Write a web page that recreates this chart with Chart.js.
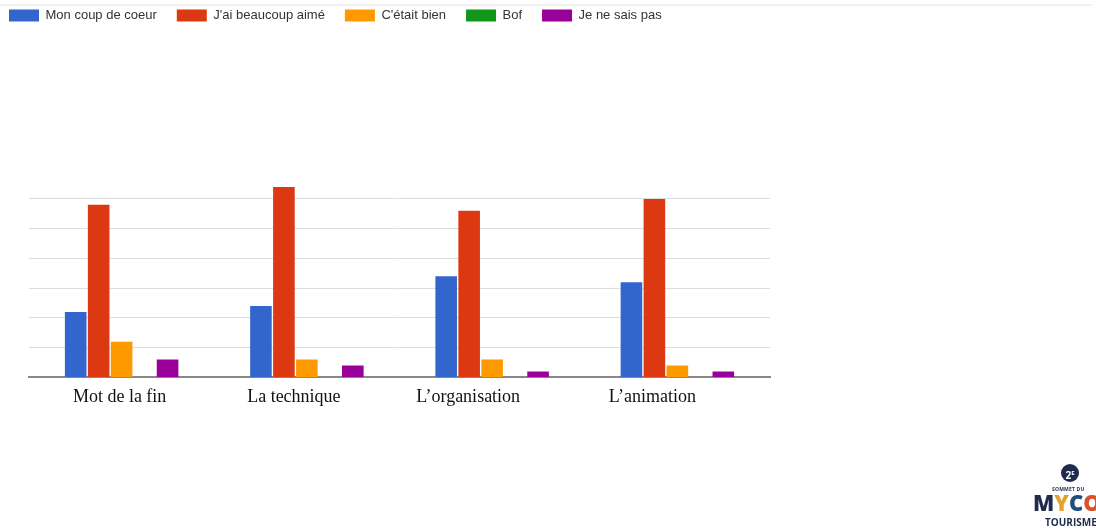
<!DOCTYPE html>
<html lang="fr">
<head>
<meta charset="utf-8">
<script src="https://cdn.jsdelivr.net/npm/chart.js@4/dist/chart.umd.min.js"></script>
<style>
  html, body { margin: 0; padding: 0; background: #fff; }
  #wrap { position: relative; width: 1096px; height: 531px; overflow: hidden; }
  #chart { position: absolute; left: -11px; top: -11px; }
  #topline { position: absolute; left: 0; top: 4px; width: 1092px; height: 2px; background: #f1f1f1; }
  #logo { position: absolute; left: 1030px; top: 462px; width: 90px; font-family: "Open Sans", "Liberation Sans", sans-serif; color: #1e2b4d; }
  #logo .badge { position: absolute; left: 31px; top: 2px; width: 18px; height: 18px; border-radius: 50%; background: #1e2b4d; color: #fff; font-size: 10px; font-weight: 700; line-height: 18px; text-align: center; }
  #logo .badge sup { font-size: 6px; }
  #logo .sommet { position: absolute; left: 22px; top: 24px; font-size: 5px; font-weight: 700; letter-spacing: 0.2px; }
  #logo .myco { position: absolute; left: 3px; top: 29px; font-size: 22px; font-weight: 800; line-height: 22px; }
  #logo .tourisme { position: absolute; left: 15px; top: 53px; font-size: 10px; font-weight: 700; }
</style>
</head>
<body>
<div id="wrap">
  <canvas id="chart" width="1107" height="542"></canvas>
  <div id="topline"></div>
  <div id="logo">
    <div class="badge">2<sup>E</sup></div>
    <div class="sommet">SOMMET DU</div>
    <div class="myco"><span>M</span><span style="color:#e5a12c">Y</span><span style="color:#1f4f7a">C</span><span style="color:#d8532b">O</span></div>
    <div class="tourisme">TOURISME</div>
  </div>
</div>
<script>
const categories = ['Mot de la fin', 'La technique', 'L\u2019organisation', 'L\u2019animation'];

const seriesNames = ['Mon coup de coeur', 'J\'ai beaucoup aimé', 'C\'était bien', 'Bof', 'Je ne sais pas'];
const coupDeCoeur = [11, 12, 17, 16];
const beaucoupAime = [29, 32, 28, 30];
const etaitBien = [6, 3, 3, 2];
const bof = [0, 0, 0, 0];
const neSaisPas = [3, 2, 1, 1];

// gridline values (no labels shown)
const yTicks = [0, 5, 10, 15, 20, 25, 30];

const colors = ['#3366cc', '#dc3912', '#ff9900', '#109618', '#990099'];
const values = [coupDeCoeur, beaucoupAime, etaitBien, bof, neSaisPas];

const labelFont = '18px "Liberation Serif", "Times New Roman", serif';

// leave an empty band between the legend and the bars
const legendGap = {
    id: 'legendGap',
    beforeInit(chart) {
        const fit = chart.legend.fit;
        chart.legend.fit = function () {
            fit.call(this);
            this.height += 155;
        };
    }
};

// category names sit in their own text boxes, drifting left of the bar groups
const categoryLabels = {
    id: 'categoryLabels',
    afterDraw(chart) {
        const x = chart.scales.x;
        const nudge = [-2, -13, -24, -25];
        const c = chart.ctx;
        c.save();
        c.font = labelFont;
        c.fillStyle = '#111';
        c.textAlign = 'center';
        c.textBaseline = 'middle';
        categories.forEach((name, i) => {
            c.fillText(name, x.getPixelForValue(i) + nudge[i], x.top + 20);
        });
        c.restore();
    }
};

const ctx = document.getElementById('chart').getContext('2d');
new Chart(ctx, {
    type: 'bar',
    data: {
        labels: categories,
        datasets: seriesNames.map((name, i) => ({
            label: name,
            data: values[i],
            backgroundColor: colors[i],
            barPercentage: 0.94,
            categoryPercentage: 0.62
        }))
    },
    options: {
        responsive: false,
        animation: false,
        layout: { padding: { left: 0, right: 326, top: 0, bottom: 118 } },
        plugins: {
            tooltip: { enabled: false },
            legend: {
                position: 'top',
                align: 'start',
                labels: {
                    boxWidth: 30,
                    boxHeight: 12,
                    padding: 20,
                    color: '#333',
                    font: { family: '"Liberation Sans", Arial, sans-serif', size: 13 }
                }
            }
        },
        scales: {
            x: {
                grid: { display: false },
                border: { color: '#888', width: 2 },
                ticks: {
                    // space is reserved here, the text itself is drawn by categoryLabels
                    color: 'rgba(0,0,0,0)',
                    padding: 3,
                    maxRotation: 0,
                    font: { family: '"Liberation Serif", "Times New Roman", serif', size: 18 }
                }
            },
            y: {
                min: 0,
                max: 32,
                border: { display: false },
                afterFit: s => { s.width = 40; },
                afterBuildTicks: s => { s.ticks = yTicks.map(v => ({ value: v })); },
                grid: {
                    drawTicks: false,
                    color: c => c.tick.value > 0 ? '#dcdcdc' : 'rgba(0,0,0,0)'
                },
                ticks: { display: false }
            }
        }
    },
    plugins: [legendGap, categoryLabels]
});
</script>
</body>
</html>
